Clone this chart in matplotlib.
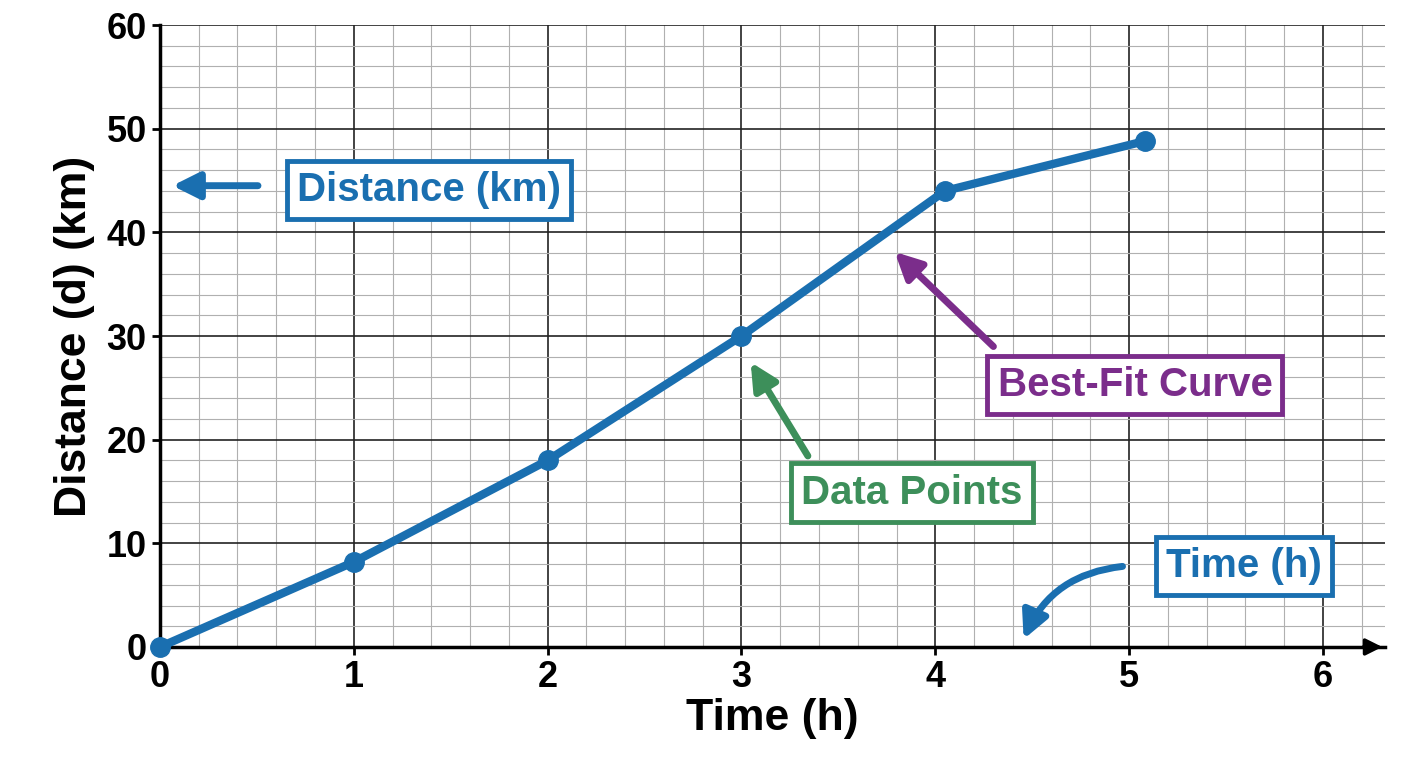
import matplotlib
matplotlib.use("Agg")
import matplotlib.pyplot as plt
from matplotlib.ticker import MultipleLocator

time_h = [0, 1, 2, 3, 4.05, 5.08]
distance_km = [0, 8.2, 18, 30, 44, 48.8]
xticks = [0, 1, 2, 3, 4, 5, 6]
yticks = [0, 10, 20, 30, 40, 50, 60]

BLUE = "#1a6fb0"
GREEN = "#3d8f5a"
PURPLE = "#7b2d8b"

plt.rcParams['font.family'] = ['Liberation Sans', 'DejaVu Sans']
fig = plt.figure(figsize=(14.08, 7.68), dpi=100)
ax = fig.add_axes([0.1136, 0.1576, 0.8701, 0.8098])
ax.set_xlim(0, 6.32)
ax.set_ylim(0, 60)
ax.set_xticks(xticks)
ax.set_yticks(yticks)
ax.xaxis.set_minor_locator(MultipleLocator(0.2))
ax.yaxis.set_minor_locator(MultipleLocator(2))
ax.grid(which='major', color='#222222', lw=1.2)
ax.grid(which='minor', color='#b0b0b0', lw=0.8)
ax.set_axisbelow(True)
for s in ['top', 'right']:
    ax.spines[s].set_visible(False)
for s in ['left', 'bottom']:
    ax.spines[s].set_linewidth(2.5)
ax.tick_params(labelsize=26, width=2, length=6, which='major')
ax.tick_params(which='minor', length=0)
for lab in ax.get_xticklabels() + ax.get_yticklabels():
    lab.set_fontweight('bold')
ax.annotate('', xy=(1.0, 0), xycoords='axes fraction', xytext=(0.98, 0),
            arrowprops=dict(arrowstyle='-|>', color='black', lw=2.5, mutation_scale=25), clip_on=False)
ax.set_xlabel('Time (h)', fontsize=32, fontweight='bold', labelpad=2)
ax.set_ylabel('Distance (d) (km)', fontsize=32, fontweight='bold', labelpad=8)

ax.plot(time_h, distance_km, color=BLUE, lw=6, marker='o', ms=14, clip_on=False, zorder=5)

def box(x, y, text, color):
    return ax.text(x, y, text, fontsize=29, fontweight='bold', color=color, ha='center', va='center',
                   bbox=dict(boxstyle='square,pad=0.25', fc='white', ec=color, lw=3.5), zorder=10)

box(1.39, 44.1, 'Distance (km)', BLUE)
ax.annotate('', xy=(0.05, 44.5), xytext=(0.52, 44.5),
            arrowprops=dict(arrowstyle='-|>', color=BLUE, lw=5, mutation_scale=40), zorder=9)
box(5.03, 25.3, 'Best-Fit Curve', PURPLE)
ax.annotate('', xy=(3.78, 38.3), xytext=(4.31, 28.8),
            arrowprops=dict(arrowstyle='-|>', color=PURPLE, lw=5, mutation_scale=40), zorder=9)
box(3.88, 14.9, 'Data Points', GREEN)
ax.annotate('', xy=(3.04, 27.7), xytext=(3.35, 18.2),
            arrowprops=dict(arrowstyle='-|>', color=GREEN, lw=5, mutation_scale=40), zorder=9)
box(5.59, 7.8, 'Time (h)', BLUE)
ax.annotate('', xy=(4.45, 0.5), xytext=(4.98, 7.8),
            arrowprops=dict(arrowstyle='-|>', color=BLUE, lw=5, mutation_scale=40,
                            connectionstyle='arc3,rad=0.3'), zorder=9)

fig.savefig('out.png', dpi=100)
